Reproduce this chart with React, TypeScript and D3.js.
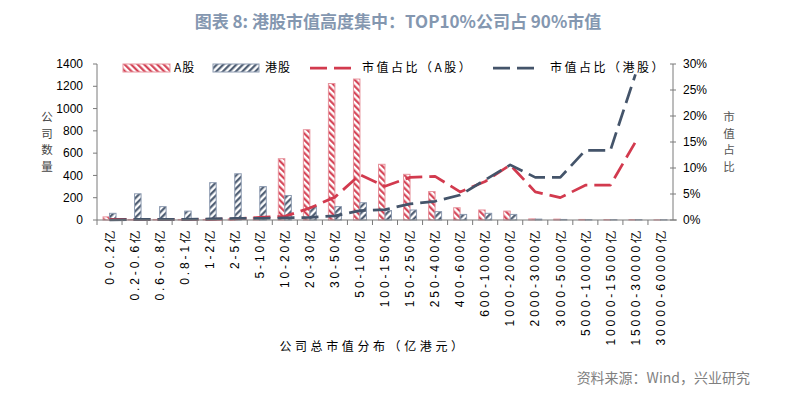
import { line, scaleBand, scaleLinear } from 'd3';

const categories = [
  '0-0.2亿', '0.2-0.6亿', '0.6-0.8亿', '0.8-1亿', '1-2亿', '2-5亿', '5-10亿', '10-20亿',
  '20-30亿', '30-50亿', '50-100亿', '100-150亿', '150-250亿', '250-400亿', '400-600亿',
  '600-1000亿', '1000-2000亿', '2000-3000亿', '3000-5000亿', '5000-10000亿',
  '10000-15000亿', '15000-30000亿', '30000-60000亿',
];

// company counts
const aShareCounts = [28, 5, 5, 5, 5, 10, 25, 550, 810, 1225, 1265, 500, 410, 255, 110, 90, 80, 10, 8, 5, 3, 3, 1];
const hkCounts = [60, 235, 120, 80, 335, 415, 300, 220, 120, 120, 155, 85, 90, 75, 50, 60, 50, 8, 5, 3, 3, 3, 2];

// share of total market cap, %
const aShareCapPct: (number | null)[] = [0.1, 0.1, 0.1, 0.1, 0.1, 0.2, 0.5, 0.7, 2.3, 4.4, 8.7, 6.5, 8.2, 8.4, 5.4, 7.4, 10.6, 5.4, 4.3, 6.7, 6.7, 15, null];
const hkCapPct: (number | null)[] = [0, 0.1, 0.1, 0.1, 0.2, 0.3, 0.3, 0.4, 0.5, 0.8, 1.8, 2.0, 3.1, 3.6, 4.8, 7.7, 10.6, 8.2, 8.2, 13.4, 13.4, 28, null];

const countTicks = [0, 200, 400, 600, 800, 1000, 1200, 1400];
const pctTicks = [0, 5, 10, 15, 20, 25, 30];

const RED = '#d23a4e';
const RED_EDGE = '#e7939d';
const BLUE = '#44546a';
const BLUE_EDGE = '#8c9ab0';
const AXIS = '#7a7a7a';
const CJK = '"Noto Sans CJK SC", sans-serif';
const NUM = '"Liberation Sans", Arial, sans-serif';

export default function App() {
  const width = 796;
  const height = 395;
  const left = 97;
  const right = 673;
  const top = 64;
  const bottom = 220;

  const x = scaleBand<string>().domain(categories).range([left, right]);
  const yCount = scaleLinear().domain([0, 1400]).range([bottom, top]);
  const yPct = scaleLinear().domain([0, 30]).range([bottom, top]);
  const barW = 6.5;
  const center = (c: string) => (x(c) ?? 0) + x.bandwidth() / 2;

  const pctLine = line<number | null>()
    .defined((d) => d != null)
    .x((_, i) => center(categories[i]))
    .y((d) => yPct(d as number));

  return (
    <div style={{ position: 'absolute', left: 0, top: 0 }}>
      <svg width={width} height={height} style={{ display: 'block', background: '#fff' }}>
        <defs>
          <pattern id="hatchA" width={4.6} height={4.6} patternUnits="userSpaceOnUse" patternTransform="rotate(-45)">
            <rect width={4.6} height={4.6} fill="#fff" />
            <line x1={1.2} y1={0} x2={1.2} y2={4.6} stroke={RED} strokeWidth={2.1} />
          </pattern>
          <pattern id="hatchH" width={4.6} height={4.6} patternUnits="userSpaceOnUse" patternTransform="rotate(45)">
            <rect width={4.6} height={4.6} fill="#fff" />
            <line x1={1.2} y1={0} x2={1.2} y2={4.6} stroke={BLUE} strokeWidth={2.1} />
          </pattern>
        </defs>

        <text x={398} y={28} textAnchor="middle" fontFamily={CJK} fontWeight="bold" fontSize={17} fill="#8497b0">
          图表 8: 港股市值高度集中：TOP10%公司占 90%市值
        </text>

        {/* bars */}
        {categories.map((c, i) => (
          <g key={c}>
            <rect x={center(c) - barW} y={yCount(aShareCounts[i])} width={barW} height={bottom - yCount(aShareCounts[i])}
              fill="url(#hatchA)" stroke={RED_EDGE} strokeWidth={1} />
            <rect x={center(c)} y={yCount(hkCounts[i])} width={barW} height={bottom - yCount(hkCounts[i])}
              fill="url(#hatchH)" stroke={BLUE_EDGE} strokeWidth={1} />
          </g>
        ))}

        {/* share lines */}
        <path d={pctLine(aShareCapPct) ?? ''} fill="none" stroke={RED} strokeWidth={2.75} strokeDasharray="17 7" strokeLinejoin="round" />
        <path d={pctLine(hkCapPct) ?? ''} fill="none" stroke={BLUE} strokeWidth={2.75} strokeDasharray="17 7" strokeLinejoin="round" />

        {/* left axis */}
        <line x1={left} x2={left} y1={top} y2={bottom} stroke={AXIS} />
        {countTicks.map((t) => (
          <g key={t}>
            <line x1={left - 4} x2={left} y1={yCount(t)} y2={yCount(t)} stroke={AXIS} />
            <text x={left - 14} y={yCount(t)} dy="0.35em" textAnchor="end" fontFamily={NUM} fontSize={12} fill="#000">{t}</text>
          </g>
        ))}
        {['公', '司', '数', '量'].map((ch, i) => (
          <text key={ch} x={47} y={121 + i * 16.5} textAnchor="middle" fontFamily={CJK} fontSize={11.5} fill="#444">{ch}</text>
        ))}

        {/* right axis */}
        <line x1={right} x2={right} y1={top} y2={bottom} stroke={AXIS} />
        {pctTicks.map((t) => (
          <g key={t}>
            <line x1={right - 3} x2={right + 3} y1={yPct(t)} y2={yPct(t)} stroke={AXIS} />
            <text x={683} y={yPct(t)} dy="0.35em" fontFamily={NUM} fontSize={12} fill="#000">{t}%</text>
          </g>
        ))}
        {['市', '值', '占', '比'].map((ch, i) => (
          <text key={ch} x={729} y={121 + i * 16.5} textAnchor="middle" fontFamily={CJK} fontSize={11.5} fill="#555">{ch}</text>
        ))}

        {/* x axis */}
        <line x1={left} x2={right + 4} y1={bottom} y2={bottom} stroke={AXIS} />
        {categories.map((c) => (
          <line key={c} x1={x(c) ?? 0} x2={x(c) ?? 0} y1={bottom} y2={bottom + 5} stroke={AXIS} />
        ))}
        {categories.map((c) => (
          <text key={c} transform={`translate(${center(c)},228) rotate(-90)`} textAnchor="end" dy="0.35em"
            fontFamily={NUM} fontSize={12} letterSpacing={2.9} fill="#000">{c}</text>
        ))}
        <text x={373} y={351} textAnchor="middle" fontFamily={CJK} fontSize={12} letterSpacing={3.6} fill="#000">
          公司总市值分布（亿港元）
        </text>

        {/* legend */}
        <rect x={123} y={64} width={47} height={8} fill="url(#hatchA)" stroke={RED_EDGE} />
        <text x={174} y={68} dy="0.35em" fontFamily={CJK} fontSize={12} letterSpacing={1} fill="#000">A股</text>
        <rect x={213} y={64} width={46} height={8} fill="url(#hatchH)" stroke={BLUE_EDGE} />
        <text x={265} y={68} dy="0.35em" fontFamily={CJK} fontSize={12} letterSpacing={1} fill="#000">港股</text>
        <line x1={310} x2={357} y1={68} y2={68} stroke={RED} strokeWidth={2.75} strokeDasharray="17 7" />
        <text x={362} y={68} dy="0.35em" fontFamily={CJK} fontSize={12} letterSpacing={2.5} fill="#000">市值占比（A股）</text>
        <line x1={493} x2={540} y1={68} y2={68} stroke={BLUE} strokeWidth={2.75} strokeDasharray="17 7" />
        <text x={550} y={68} dy="0.35em" fontFamily={CJK} fontSize={12} letterSpacing={2.5} fill="#000">市值占比（港股）</text>

        <text x={750} y={383} textAnchor="end" fontFamily={CJK} fontSize={14} fill="#7f7f7f">资料来源：Wind，兴业研究</text>
      </svg>
    </div>
  );
}
